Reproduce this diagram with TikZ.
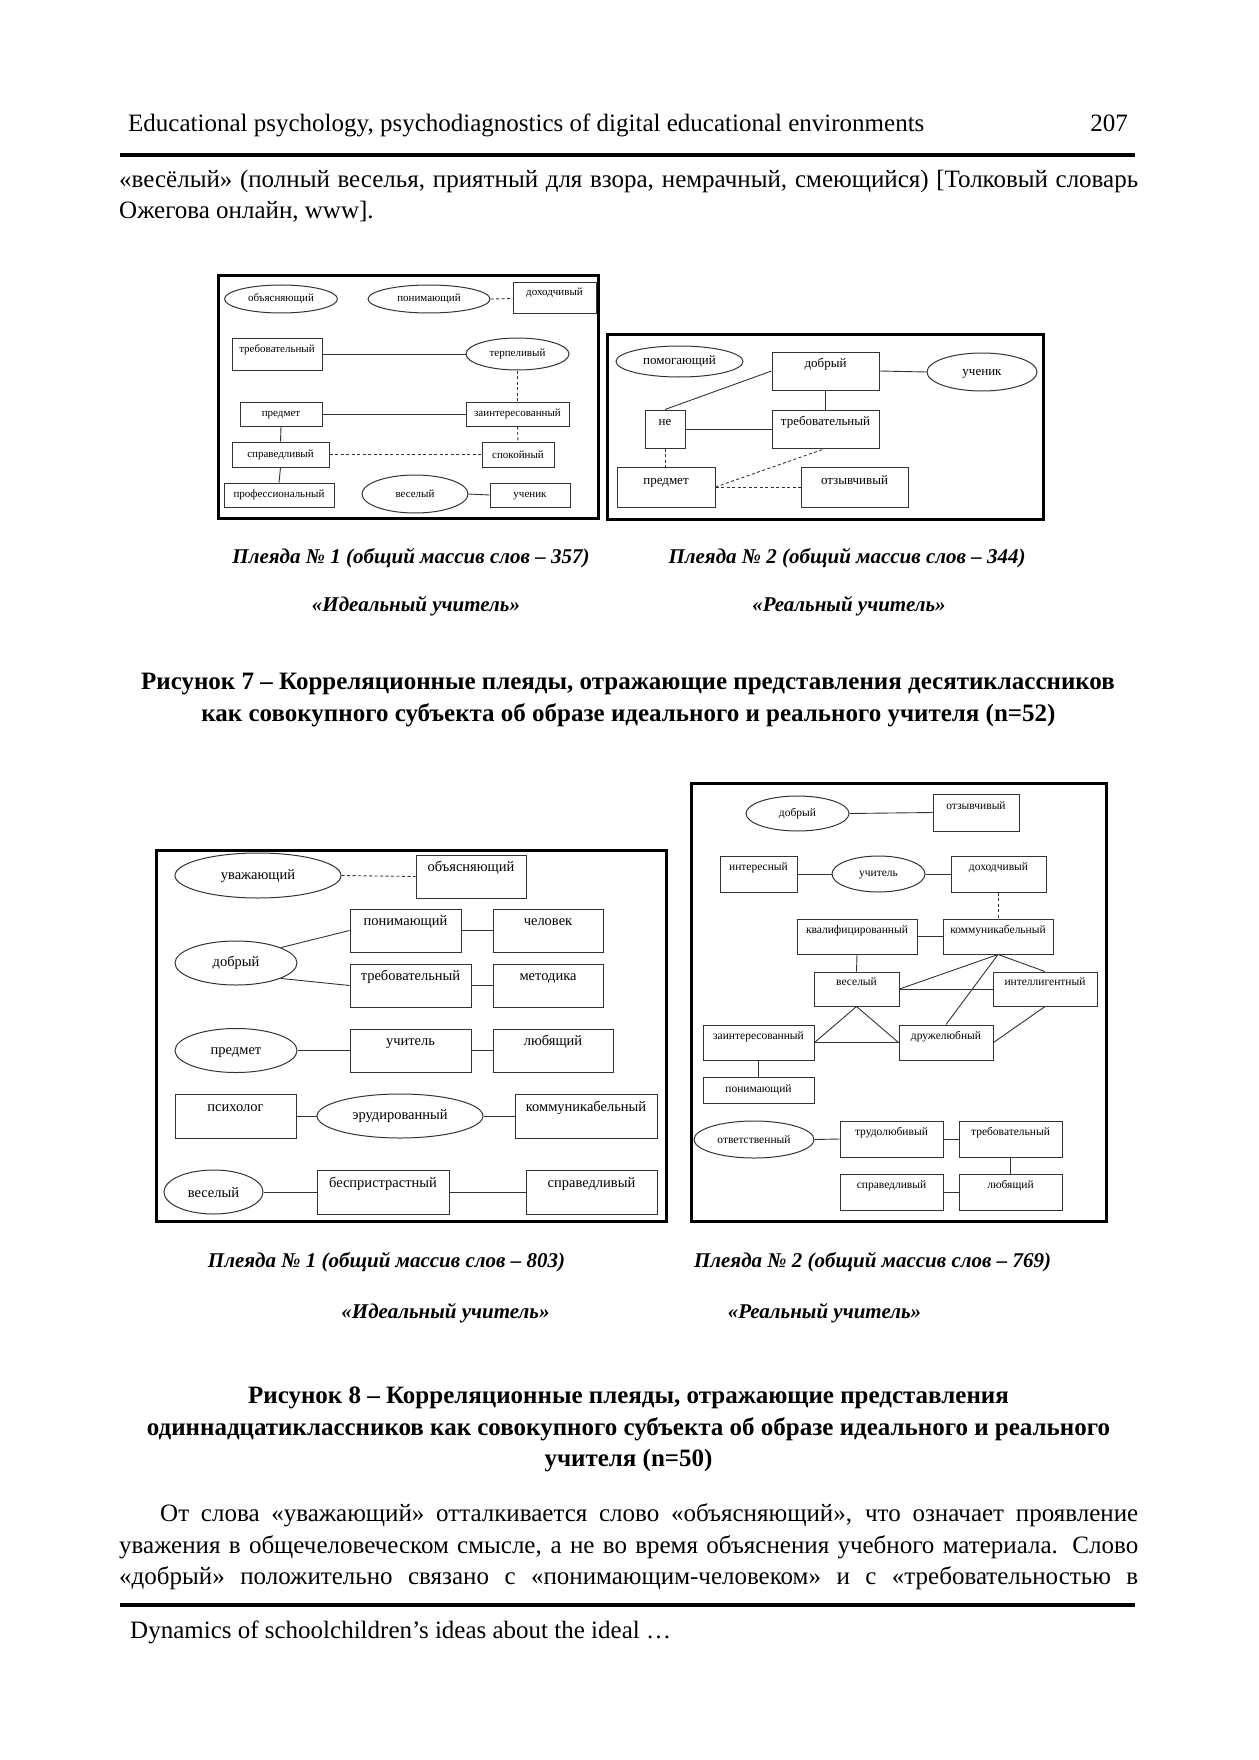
\documentclass[tikz,border=0pt]{standalone}
\usepackage{fontspec}
\setmainfont{Liberation Serif}
\usetikzlibrary{positioning,shapes.geometric}

\begin{document}
\begin{tikzpicture}[
  x=1pt, y=-1pt,
  every node/.style={inner sep=1pt},
  box/.style={draw=black!80, line width=1pt, rectangle},
  oval/.style={draw=black!80, line width=1pt, ellipse, inner sep=0pt},
  frame/.style={draw, line width=3pt},
  link/.style={draw=black!80, line width=0.9pt},
  dlink/.style={link, dash pattern=on 3pt off 2.5pt},
  fa/.style={font=\fontsize{11}{13}\selectfont, text height=7.7pt},
  fb/.style={font=\fontsize{13}{15}\selectfont, text height=9.1pt},
  fc/.style={font=\fontsize{14.5}{17}\selectfont, text height=10.2pt},
  fd/.style={font=\fontsize{11.5}{13}\selectfont, text height=8pt},
  lift/.style={text depth=#1},
  txt/.style={font=\fontsize{25}{29}\selectfont, inner sep=0pt},
  plcap/.style={font=\fontsize{21}{25}\selectfont\bfseries\itshape, inner sep=0pt},
  ttl/.style={font=\fontsize{25}{29}\selectfont\bfseries, inner sep=0pt}
]
  \fill[white] (0,0) rectangle (1258,1760);
  \useasboundingbox (0,0) rectangle (1258,1760);

  % running head
  \node[txt, anchor=base west] (head) at (128,132) {Educational psychology, psychodiagnostics of digital educational environments};
  \node[txt, anchor=base east] (page) at (1128,132) {207};
  \draw[line width=4.5pt] (120,155) -- (1135,155);

  \node[txt, anchor=base west] (top1) at (119,188) {\makebox[1019pt][s]{«весёлый» (полный веселья, приятный для взора, немрачный, смеющийся) [Толковый словарь}};
  \node[txt, anchor=base west] (top2) at (119,219) {Ожегова онлайн, www].};

  % Figure 7, pleiad 1
  \draw[frame] (218,276) rectangle (598,518);
  \node[oval, fa, minimum width=113, minimum height=28] (aobj) at (281,299) {объясняющий};
  \node[oval, fa, minimum width=122, minimum height=28] (aponim) at (429,299) {понимающий};
  \node[box, fa, lift=12.8pt, minimum width=83, minimum height=31] (adoh) at (554.5,298.5) {доходчивый};
  \node[box, fa, lift=9.8pt, minimum width=90, minimum height=32] (atreb) at (277,354) {требовательный};
  \node[oval, fa, minimum width=103, minimum height=32] (aterp) at (517.5,354) {терпеливый};
  \node[box, fa, minimum width=82, minimum height=24] (apred) at (281,414) {предмет};
  \node[box, fa, minimum width=103, minimum height=24] (azain) at (517.5,414) {заинтересованный};
  \node[box, fa, minimum width=97, minimum height=25] (asprav) at (280.5,454.5) {справедливый};
  \node[box, fa, minimum width=72, minimum height=25] (aspok) at (518,454.5) {спокойный};
  \node[box, fa, minimum width=110, minimum height=24] (aprof) at (279,495) {профессиональный};
  \node[oval, fa, minimum width=106, minimum height=38] (aves) at (415,494) {веселый};
  \node[box, fa, minimum width=80, minimum height=24] (auch) at (530,495) {ученик};

  \draw[dlink] (aponim.east) -- (adoh.west);
  \draw[link] (atreb.east) -- (aterp.west);
  \draw[dlink] (aterp.south) -- (azain.north);
  \draw[link] (apred.east) -- (azain.west);
  \draw[link] (apred.south) -- (asprav.north);
  \draw[dlink] (azain.south) -- (aspok.north);
  \draw[dlink] (asprav.east) -- (aspok.west);
  \draw[link] (asprav.south) -- (aprof.north);
  \draw[link] (aves.east) -- (auch.west);

  % Figure 7, pleiad 2
  \draw[frame] (607,334) rectangle (1043,519);
  \node[oval, fb, minimum width=127, minimum height=31] (bpom) at (679.5,361.5) {помогающий};
  \node[box, fb, lift=17pt, minimum width=107, minimum height=38] (bdob) at (825.5,371) {добрый};
  \node[oval, fb, minimum width=110, minimum height=38] (buch) at (982,372) {ученик};
  \node[box, fb, lift=17pt, minimum width=40, minimum height=38] (bne) at (665,429) {не};
  \node[box, fb, lift=17pt, minimum width=107, minimum height=38] (btreb) at (825.5,429) {требовательный};
  \node[box, fb, lift=14pt, minimum width=98, minimum height=40] (bpred) at (666,487) {предмет};
  \node[box, fb, lift=14pt, minimum width=107, minimum height=40] (botz) at (854.5,487) {отзывчивый};

  \draw[link] (bdob.east) -- (buch.west);
  \draw[link] (bdob.south) -- (btreb.north);
  \draw[link] (bne.east) -- (btreb.west);
  \draw[link] (bne.north) -- (bdob.west);
  \draw[dlink] (bne.south) -- (bpred.north -| bne.south);
  \draw[dlink] (bpred.east) -- (btreb.south);
  \draw[dlink] (bpred.east) -- (botz.west);

  \node[plcap, anchor=base] (capa) at (411,563) {Плеяда № 1 (общий массив слов – 357)};
  \node[plcap, anchor=base] (capb) at (847,563) {Плеяда № 2 (общий массив слов – 344)};
  \node[plcap, anchor=base] (ideala) at (416,611) {«Идеальный учитель»};
  \node[plcap, anchor=base] (reala) at (849,611) {«Реальный учитель»};

  \node[ttl, anchor=base] (fig7a) at (628,689) {Рисунок 7 – Корреляционные плеяды, отражающие представления десятиклассников};
  \node[ttl, anchor=base] (fig7b) at (628.5,721) {как совокупного субъекта об образе идеального и реального учителя (n=52)};

  % Figure 8, pleiad 1
  \draw[frame] (156,850) rectangle (666,1221);
  \node[oval, fc, minimum width=166, minimum height=45] (cuv) at (258,875.5) {уважающий};
  \node[box, fc, lift=19.3pt, minimum width=110, minimum height=43] (cobj) at (471,876.5) {объясняющий};
  \node[box, fc, lift=19.3pt, minimum width=111, minimum height=43] (cpon) at (405.5,930.5) {понимающий};
  \node[box, fc, lift=19.3pt, minimum width=110, minimum height=43] (cchel) at (548,930.5) {человек};
  \node[oval, fc, minimum width=122, minimum height=44] (cdob) at (236,963) {добрый};
  \node[box, fc, lift=19.3pt, minimum width=121, minimum height=43] (ctreb) at (410.5,985.5) {требовательный};
  \node[box, fc, lift=19.3pt, minimum width=110, minimum height=43] (cmet) at (548,985.5) {методика};
  \node[oval, fc, minimum width=122, minimum height=44] (cpred) at (236,1050.5) {предмет};
  \node[box, fc, lift=19.3pt, minimum width=121, minimum height=43] (cuch) at (410.5,1050.5) {учитель};
  \node[box, fc, lift=19.3pt, minimum width=120, minimum height=43] (clyub) at (553,1050.5) {любящий};
  \node[box, fc, lift=19.3pt, minimum width=121, minimum height=44] (cpsy) at (235.5,1116) {психолог};
  \node[oval, fc, minimum width=166, minimum height=44] (cerud) at (400,1116) {эрудированный};
  \node[box, fc, lift=19.3pt, minimum width=142, minimum height=44] (ckom) at (586,1116) {коммуникабельный};
  \node[oval, fc, minimum width=99, minimum height=44] (cves) at (213.5,1192) {веселый};
  \node[box, fc, lift=19.3pt, minimum width=132, minimum height=44] (cbes) at (383,1192) {беспристрастный};
  \node[box, fc, lift=19.3pt, minimum width=131, minimum height=44] (cspr) at (591.5,1192) {справедливый};

  \draw[dlink] (cuv.east) -- (cobj.west);
  \draw[link] (cdob.19) -- (cpon.west);
  \draw[link] (cdob.-19) -- (ctreb.west);
  \draw[link] (cpon.east) -- (cchel.west);
  \draw[link] (ctreb.east) -- (cmet.west);
  \draw[link] (cpred.east) -- (cuch.west);
  \draw[link] (cuch.east) -- (clyub.west);
  \draw[link] (cpsy.east) -- (cerud.west);
  \draw[link] (cerud.east) -- (ckom.west);
  \draw[link] (cves.east) -- (cbes.west);
  \draw[link] (cbes.east) -- (cspr.west);

  % Figure 8, pleiad 2
  \draw[frame] (691,783) rectangle (1106,1221);
  \node[oval, fd, minimum width=103, minimum height=35] (ddob) at (797.5,813.5) {добрый};
  \node[box, fd, lift=15pt, minimum width=86, minimum height=37] (dotz) at (976,812.5) {отзывчивый};
  \node[box, fd, lift=15pt, minimum width=77, minimum height=36] (dint) at (758.5,874) {интересный};
  \node[oval, fd, minimum width=93, minimum height=36] (duch) at (878.5,874) {учитель};
  \node[box, fd, lift=15pt, minimum width=95, minimum height=36] (ddoh) at (998.5,874) {доходчивый};
  \node[box, fd, lift=15pt, minimum width=120, minimum height=35] (dkval) at (857,936.5) {квалифицированный};
  \node[box, fd, lift=15pt, minimum width=110, minimum height=35] (dkom) at (998,936.5) {коммуникабельный};
  \node[box, fd, lift=15pt, minimum width=85, minimum height=34] (dves) at (856.5,989) {веселый};
  \node[box, fd, lift=15pt, minimum width=104, minimum height=34] (dintel) at (1045,989) {интеллигентный};
  \node[box, fd, lift=15pt, minimum width=111, minimum height=35] (dzain) at (758.5,1042.5) {заинтересованный};
  \node[box, fd, lift=15pt, minimum width=94, minimum height=35] (ddru) at (946,1042.5) {дружелюбный};
  \node[box, fd, minimum width=111, minimum height=26] (dpon) at (758.5,1090) {понимающий};
  \node[oval, fd, minimum width=120, minimum height=37] (dotv) at (754,1139.5) {ответственный};
  \node[box, fd, lift=15pt, minimum width=103, minimum height=36] (dtrud) at (891.5,1139) {трудолюбивый};
  \node[box, fd, lift=15pt, minimum width=103, minimum height=36] (dtreb) at (1010.5,1139) {требовательный};
  \node[box, fd, lift=15pt, minimum width=103, minimum height=36] (dspr) at (891.5,1192) {справедливый};
  \node[box, fd, lift=15pt, minimum width=103, minimum height=36] (dlyub) at (1010.5,1192) {любящий};

  \draw[link] (ddob.east) -- (dotz.west);
  \draw[link] (dint.east) -- (duch.west);
  \draw[link] (duch.east) -- (ddoh.west);
  \draw[dlink] (ddoh.south) -- (ddoh.south |- dkom.north);
  \draw[link] (dkval.east) -- (dkom.west);
  \draw[link] (dkval.south) -- (dves.north);
  \draw[link] (dves.east) -- (dintel.west);
  \draw[link] (dkom.south) -- (dves.east);
  \draw[link] (dkom.south) -- (ddru.north);
  \draw[link] (dkom.south) -- (dintel.north);
  \draw[link] (dves.south) -- (dzain.east);
  \draw[link] (dves.south) -- (ddru.west);
  \draw[link] (dzain.east) -- (ddru.west);
  \draw[link] (ddru.east) -- (dintel.south);
  \draw[link] (dzain.south) -- (dpon.north);
  \draw[link] (dotv.east) -- (dtrud.west);
  \draw[link] (dtrud.east) -- (dtreb.west);
  \draw[link] (dtreb.south) -- (dlyub.north);
  \draw[link] (dspr.east) -- (dlyub.west);

  \node[plcap, anchor=base] (capc) at (386.5,1267) {Плеяда № 1 (общий массив слов – 803)};
  \node[plcap, anchor=base] (capd) at (872.5,1267) {Плеяда № 2 (общий массив слов – 769)};
  \node[plcap, anchor=base] (idealb) at (445.5,1318) {«Идеальный учитель»};
  \node[plcap, anchor=base] (realb) at (824.5,1318) {«Реальный учитель»};

  \node[ttl, anchor=base] (fig8a) at (628.5,1403) {Рисунок 8 – Корреляционные плеяды, отражающие представления};
  \node[ttl, anchor=base] (fig8b) at (628.5,1435) {одиннадцатиклассников как совокупного субъекта об образе идеального и реального};
  \node[ttl, anchor=base] (fig8c) at (628.5,1466) {учителя (n=50)};

  % text after the figure
  \node[txt, anchor=base west] (par1) at (160,1521) {\makebox[978pt][s]{От слова «уважающий» отталкивается слово «объясняющий», что означает проявление}};
  \node[txt, anchor=base west] (par2) at (119,1553) {\makebox[1019pt][s]{уважения в общечеловеческом смысле, а не во время объяснения учебного материала. Слово}};
  \node[txt, anchor=base west] (par3) at (119,1584) {\makebox[1019pt][s]{«добрый» положительно связано с «понимающим-человеком» и с «требовательностью в}};

  \draw[line width=4.5pt] (120,1605) -- (1135,1605);
  \node[txt, anchor=base west] (foot) at (130,1638) {Dynamics of schoolchildren’s ideas about the ideal …};
\end{tikzpicture}
\end{document}
